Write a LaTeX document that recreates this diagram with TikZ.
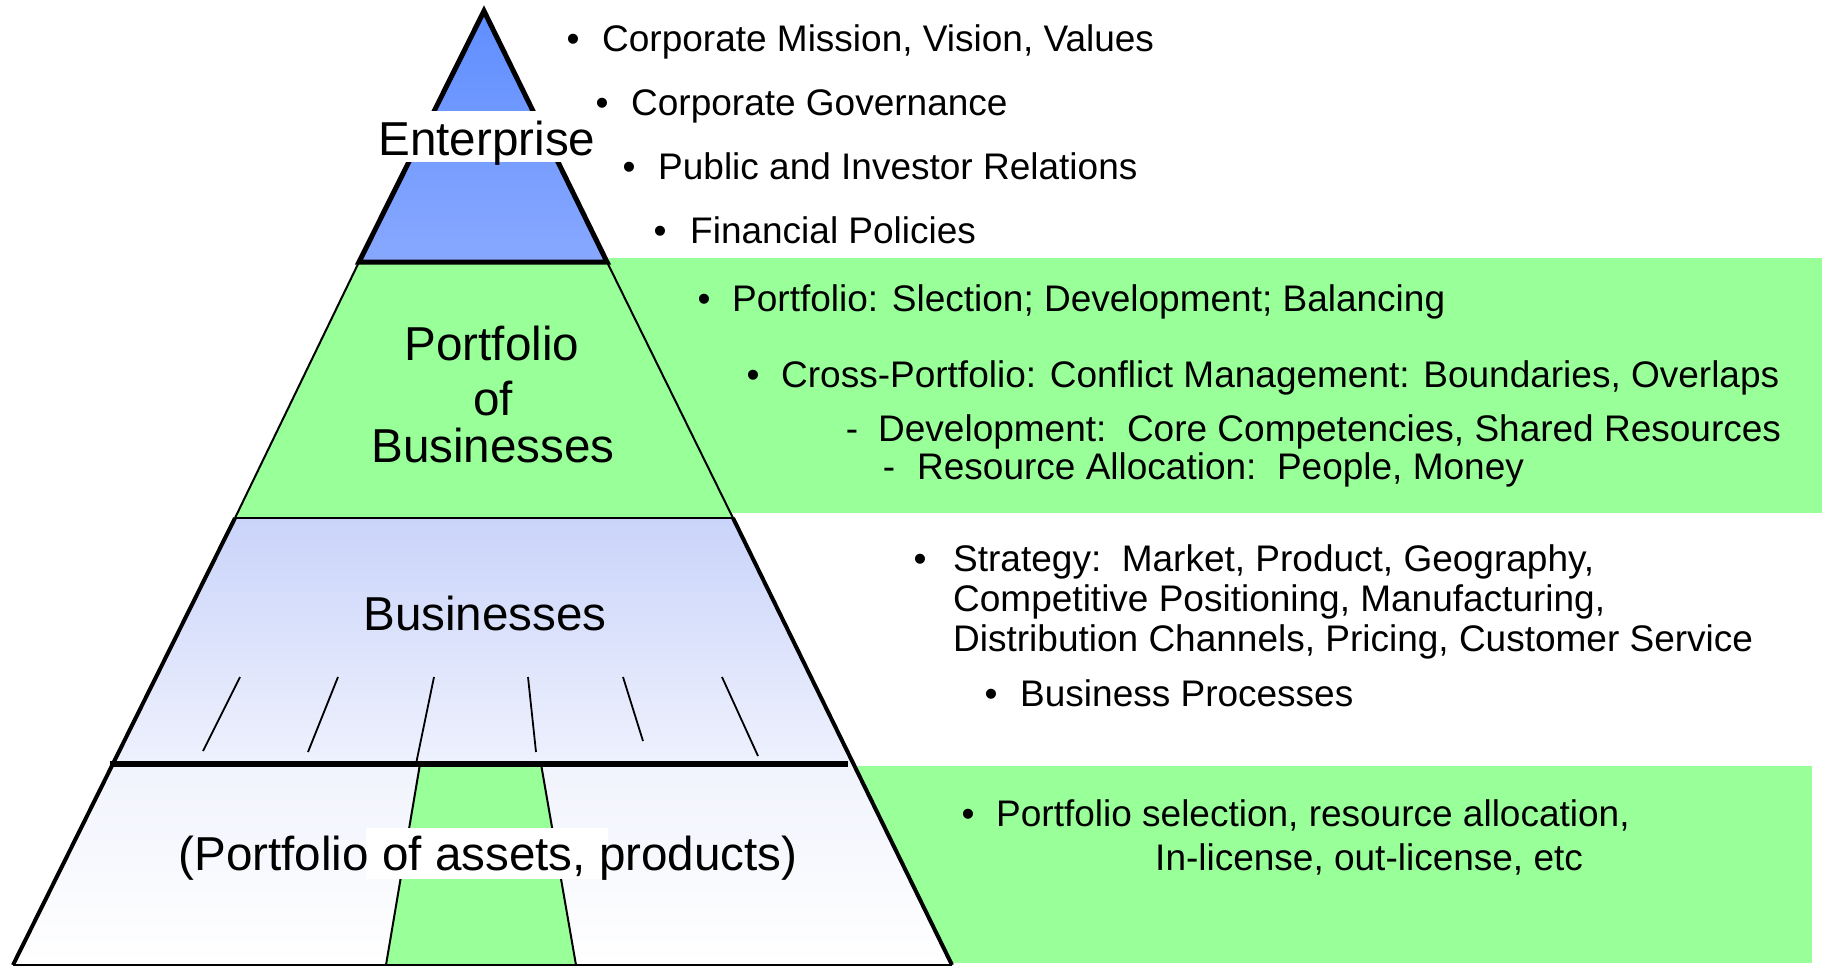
\documentclass[tikz,border=0pt]{standalone}
\usepackage{fontspec}
\setmainfont{Liberation Sans}
\definecolor{grn}{HTML}{99FF99}
\definecolor{entTop}{HTML}{5F8EFF}
\definecolor{entBot}{HTML}{88A8FF}
\definecolor{busTop}{HTML}{CAD4FA}
\definecolor{busBot}{HTML}{EEF1FD}
\definecolor{astTop}{HTML}{F1F3FD}
\begin{document}
\begin{tikzpicture}[x=1pt,y=-1pt,line join=miter,
  rtext/.style={anchor=base west,inner sep=0pt,font=\fontsize{37}{40}\selectfont},
  bul/.style={anchor=base,inner sep=0pt,font=\fontsize{37}{40}\selectfont},
  lvl/.style={anchor=base,inner sep=0pt,font=\fontsize{47.6}{50}\selectfont},
  sidethick/.style={line width=4pt},
  sidethin/.style={line width=2pt},
  tick/.style={line width=1.8pt}]
\useasboundingbox (0,0) rectangle (1822,966);
% pyramid corner points
\coordinate (apex) at (484,11);
\coordinate (eL) at (359,262);
\coordinate (eR) at (607,262);
\coordinate (pL) at (235,518);
\coordinate (pR) at (733,518);
\coordinate (bL) at (112,764);
\coordinate (bR) at (854,764);
\coordinate (gL) at (13,965);
\coordinate (gR) at (952,965);
% green bands on the right
\fill[grn] (609,258) rectangle (1822,513);
\fill[grn] (850,766) rectangle (1812,963);
% bottom level
\shade[top color=astTop,bottom color=white] (bL) -- (bR) -- (gR) -- (gL) -- cycle;
\fill[grn] (420,764) -- (541,764) -- (576,965) -- (386,965) -- cycle;
\draw[sidethin] (420,764) -- (386,965);
\draw[sidethin] (541,764) -- (576,965);
\draw[sidethin] (gL) -- (gR);
% businesses level
\shade[top color=busTop,bottom color=busBot] (pL) -- (pR) -- (bR) -- (bL) -- cycle;
\draw[tick] (240,677) -- (203,751);
\draw[tick] (338,677) -- (308,752);
\draw[tick] (434,677) -- (416,764);
\draw[tick] (528,677) -- (536,752);
\draw[tick] (623,677) -- (643,741);
\draw[tick] (722,677) -- (758,756);
\draw[sidethick] (pL) -- (gL);
\draw[sidethick] (pR) -- (gR);
\draw[line width=6pt] (110,764) -- (848,764);
% portfolio level
\fill[grn] (eL) -- (eR) -- (pR) -- (pL) -- cycle;
\draw[sidethin] (eL) -- (pL);
\draw[sidethin] (eR) -- (pR);
\draw[sidethin] (pL) -- (pR);
% enterprise level
\shade[top color=entTop,bottom color=entBot] (apex) -- (eR) -- (eL) -- cycle;
\draw[line width=5pt] (apex) -- (eR) -- (eL) -- cycle;
% label backgrounds
\fill[white] (378,111) rectangle (595,162);
\fill[white] (366,828) rectangle (608,879);
% level labels
\node[lvl] (lEnt) at (487,155) {Enterprise};
\node[lvl] (lPf1) at (492,360) {Portfolio};
\node[lvl] (lPf2) at (493,415) {of};
\node[lvl] (lPf3) at (493,462) {Businesses};
\node[lvl] (lBus) at (485,630) {Businesses};
\node[lvl] (lAss) at (488,870) {(Portfolio of assets, products)};
% enterprise bullets
\node[bul] (b1) at (573,52) {•};
\node[rtext] (t1) at (602,52) {Corporate Mission, Vision, Values};
\node[bul] (b2) at (602,115) {•};
\node[rtext] (t2) at (631,115) {Corporate Governance};
\node[bul] (b3) at (629,179) {•};
\node[rtext] (t3) at (658,179) {Public and Investor Relations};
\node[bul] (b4) at (660,243) {•};
\node[rtext] (t4) at (690,243) {Financial Policies};
% portfolio bullets
\node[bul] (b5) at (704,311) {•};
\node[rtext] (t5) at (732,311) {Portfolio: Slection; Development; Balancing};
\node[bul] (b6) at (753,387) {•};
\node[rtext] (t6) at (781,387) {Cross-Portfolio: Conflict Management: Boundaries, Overlaps};
\node[bul] (d7) at (852,441) {-};
\node[rtext] (t7) at (878,441) {Development:\ \ Core Competencies, Shared Resources};
\node[bul] (d8) at (889,479) {-};
\node[rtext] (t8) at (917,479) {Resource Allocation:\ \ People, Money};
% businesses bullets
\node[bul] (b9) at (920,571) {•};
\node[rtext] (t9a) at (953,571) {Strategy:\ \ Market, Product, Geography,};
\node[rtext] (t9b) at (953,611) {Competitive Positioning, Manufacturing,};
\node[rtext] (t9c) at (953,651) {Distribution Channels, Pricing, Customer Service};
\node[bul] (b10) at (991,706) {•};
\node[rtext] (t10) at (1020,706) {Business Processes};
% asset bullets
\node[bul] (b11) at (968,826) {•};
\node[rtext] (t11a) at (996,826) {Portfolio selection, resource allocation,};
\node[rtext] (t11b) at (1155,870) {In-license, out-license, etc};
\end{tikzpicture}
\end{document}
